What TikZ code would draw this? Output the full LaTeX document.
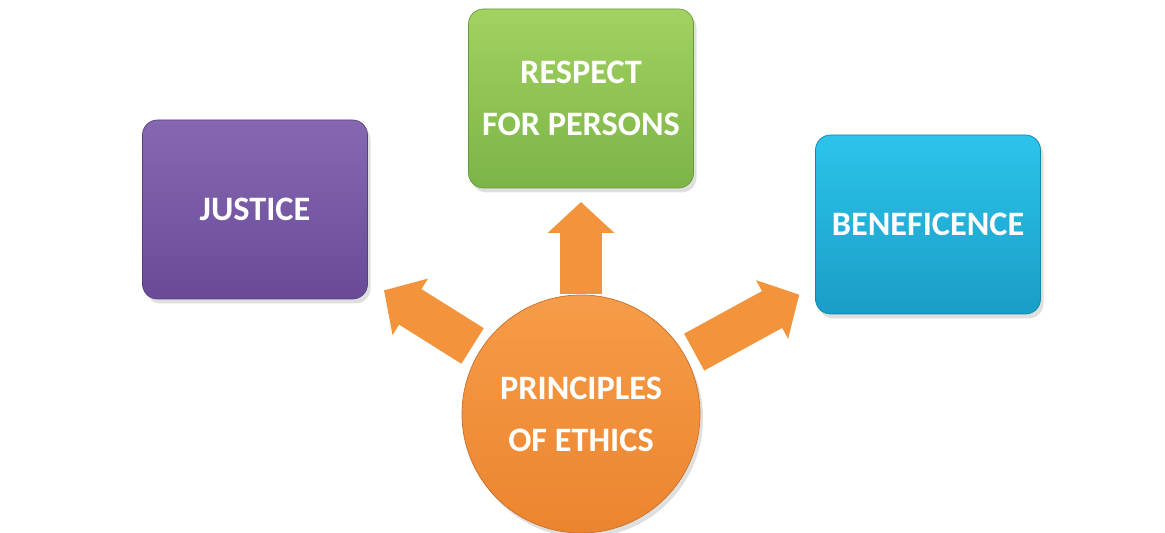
\documentclass[tikz,border=0pt]{standalone}
\usepackage{fontspec}
\setmainfont{Carlito}
\usepackage{xcolor}
\usetikzlibrary{positioning,shapes,arrows.meta,shadows}

\definecolor{purpletop}{HTML}{8668B2}
\definecolor{purplebot}{HTML}{694A97}
\definecolor{greentop}{HTML}{A2D262}
\definecolor{greenbot}{HTML}{7CB446}
\definecolor{bluetop}{HTML}{2CC4EB}
\definecolor{bluebot}{HTML}{1A9DC6}
\definecolor{orangetop}{HTML}{F69C48}
\definecolor{orangebot}{HTML}{EC842F}
\definecolor{arroworange}{HTML}{F3933C}

\begin{document}
\begin{tikzpicture}[
    font=\fontsize{19.5}{29.5}\selectfont\bfseries,
    box/.style={
        rectangle, rounded corners=3mm,
        minimum width=45mm, minimum height=35.8mm,
        outer sep=0pt, align=center, text=white,
        drop shadow={opacity=0.25, shadow xshift=0.6mm, shadow yshift=-0.9mm}
    },
    hub/.style={
        circle, minimum size=47.6mm, outer sep=0pt,
        align=center, text=white,
        top color=orangetop, bottom color=orangebot,
        draw=orangebot!85!black, thin,
        drop shadow={opacity=0.25, shadow xshift=0.6mm, shadow yshift=-0.9mm}
    },
    fatarrow/.style={-{Triangle[length=6.2mm, width=13mm]},
        line width=8.4mm, arroworange}
]
\useasboundingbox (0,0) rectangle (23.3,-10.66);

\node[hub] (ethics) at (11.62,-8.28) {PRINCIPLES\\OF ETHICS};
\node[box, top color=greentop, bottom color=greenbot, draw=greenbot!85!black,
    above=21.4mm of ethics] (respect) {RESPECT\\FOR PERSONS};
\node[box, top color=purpletop, bottom color=purplebot, draw=purplebot!85!black,
    left=20.2mm of respect, yshift=-22.2mm] (justice) {JUSTICE};
\node[box, top color=bluetop, bottom color=bluebot, draw=bluebot!85!black,
    right=24.4mm of respect, yshift=-25.2mm] (benef) {BENEFICENCE};

\draw[fatarrow, shorten >=2.8mm, shorten <=0.2mm] (ethics.north) -- (respect.south);
\draw[fatarrow, shorten >=3.9mm, shorten <=1.8mm] (ethics) -- (justice);
\draw[fatarrow, shorten >=3.7mm, shorten <=2mm] (ethics) -- (benef);

\end{tikzpicture}
\end{document}
